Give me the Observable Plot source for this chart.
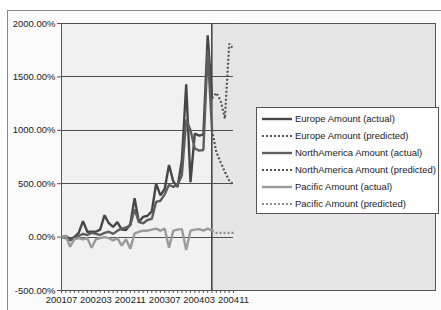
<!DOCTYPE html>
<html>
<head>
<meta charset="utf-8">
<script src="https://cdn.jsdelivr.net/npm/d3@7"></script>
<script src="https://cdn.jsdelivr.net/npm/@observablehq/plot@0.6"></script>
<style>
  html, body { margin: 0; padding: 0; background: #ffffff; }
  #wrap { position: relative; width: 441px; height: 310px; overflow: hidden; font-family: "Liberation Sans", Arial, sans-serif; }
  #frame { position: absolute; left: 7px; top: 10px; width: 450px; height: 320px; border: 1px solid #8a8a8a; background: #fbfbfb; }
  #chart { position: absolute; left: 0; top: 0; }
  #legend { position: absolute; left: 256px; top: 107px; width: 183px; height: 107px; background: #ffffff; border: 1px solid #555; box-sizing: border-box; padding-top: 2px; }
  .row { height: 17px; display: flex; align-items: center; font-size: 9.5px; color: #222; white-space: nowrap; }
  .row svg { margin-left: 5px; margin-right: 3px; }
</style>
</head>
<body>
<div id="wrap"><div id="frame"></div><div id="chart"></div><div id="legend"></div></div>
<script>
// ---- data ----
const months = ["200107","200108","200109","200110","200111","200112",
  "200201","200202","200203","200204","200205","200206","200207","200208","200209","200210","200211","200212",
  "200301","200302","200303","200304","200305","200306","200307","200308","200309","200310","200311","200312",
  "200401","200402","200403","200404","200405","200406","200407","200408","200409","200410","200411"];
const xTickLabels = ["200107","200203","200211","200307","200403","200411"];
const yTicks = [-500, 0, 500, 1000, 1500, 2000];

// actual values (%), months 200107..200406
const europeActual = [0, 10, -20, 0, 40, 150, 50, 50, 50, 70, 205, 130, 95, 140, 70, 65, 120, 365,
  140, 190, 200, 240, 500, 390, 450, 675, 520, 470, 720, 1430, 515, 970, 950, 960, 1890, 1300];
const northAmericaActual = [0, -10, -30, -10, 10, 30, 20, 40, 30, 20, 40, 50, 30, 60, 80, 90, 110, 260,
  140, 130, 160, 170, 330, 340, 400, 490, 470, 490, 580, 1100, 1000, 830, 810, 815, 1750, 1000];
const pacificActual = [0, 10, -90, -20, -10, -20, -10, -100, -20, -10, 0, -10, -30, -10, -80, -20, -110, 35,
  50, 60, 60, 70, 80, 60, 80, -100, 60, 70, 75, -120, 60, 70, 75, 60, 80, 60];
// predicted values (%), months 200406..200411
const europePredicted = [1300, 1350, 1280, 1110, 1810, 1760];
const northAmericaPredicted = [1000, 800, 700, 610, 530, 490];
const pacificPredicted = [60, 40, 40, 40, 40, 40];

const series = [
  {name: "Europe Amount (actual)", values: europeActual, start: 0, color: "#464646", dash: null},
  {name: "Europe Amount (predicted)", values: europePredicted, start: europeActual.length - 1, color: "#555555", dash: "2,2"},
  {name: "NorthAmerica Amount (actual)", values: northAmericaActual, start: 0, color: "#5e5e5e", dash: null},
  {name: "NorthAmerica Amount (predicted)", values: northAmericaPredicted, start: northAmericaActual.length - 1, color: "#555555", dash: "2,2"},
  {name: "Pacific Amount (actual)", values: pacificActual, start: 0, color: "#9a9a9a", dash: null},
  {name: "Pacific Amount (predicted)", values: pacificPredicted, start: pacificActual.length - 1, color: "#8e8e8e", dash: "2,2"}
];

const lastActual = europeActual.length - 1;
const lastIndex = months.length - 1;
const yMin = d3.min(yTicks), yMax = d3.max(yTicks);

const marks = [
  Plot.rect([{x1: 0, x2: lastActual, y1: yMin, y2: yMax}], {x1: "x1", x2: "x2", y1: "y1", y2: "y2", fill: "#f1f1f1", stroke: "#555", strokeWidth: 1, shapeRendering: "crispEdges"}),
  Plot.rect([{x1: lastActual, x2: lastIndex, y1: yMin, y2: yMax}], {x1: "x1", x2: "x2", y1: "y1", y2: "y2", fill: "#e6e6e6", stroke: "#555", strokeWidth: 1, insetRight: -202, shapeRendering: "crispEdges"}),
  Plot.ruleY(yTicks, {x1: 0, x2: lastIndex, stroke: "#505050", strokeWidth: 1, strokeOpacity: 1, shapeRendering: "crispEdges"}),
  Plot.ruleX([lastActual], {y1: yMin, y2: yMax, stroke: "#444", strokeWidth: 1.2}),
  Plot.axisY({ticks: yTicks, tickFormat: d => d.toFixed(2) + "%", tickSize: 4, tickPadding: 2, label: null, stroke: "#555"}),
  Plot.axisX({ticks: d3.range(0, months.length), tickSize: 3, tickFormat: () => "", label: null, stroke: "#555"}),
  Plot.axisX({ticks: xTickLabels.map(l => months.indexOf(l)), tickSize: 0, tickPadding: 6, tickFormat: i => months[i], label: null})
];
for (const s of series) {
  const data = s.values.map((v, k) => ({i: s.start + k, v}));
  marks.push(Plot.line(data, {x: "i", y: "v", stroke: s.color, strokeWidth: s.dash ? 2.2 : 2.4,
    strokeDasharray: s.dash || undefined, strokeLinejoin: "miter", strokeLinecap: "butt"}));
}

const chart = Plot.plot({
  width: 441, height: 310,
  marginLeft: 61, marginRight: 208, marginTop: 23, marginBottom: 20,
  x: {domain: [0, lastIndex]},
  y: {domain: [yMin, yMax]},
  style: {background: "transparent", fontFamily: "'Liberation Sans', Arial, sans-serif", fontSize: "9.5px", color: "#222", overflow: "visible"},
  marks
});
document.getElementById("chart").appendChild(chart);

const legend = document.getElementById("legend");
for (const s of series) {
  const row = document.createElement("div");
  row.className = "row";
  row.innerHTML = `<svg width="30" height="6"><line x1="0" x2="30" y1="3" y2="3" stroke="${s.color}" stroke-width="${s.dash ? 2.2 : 2.4}" ${s.dash ? `stroke-dasharray="${s.dash}"` : ""}/></svg><span>${s.name}</span>`;
  legend.appendChild(row);
}
</script>
</body>
</html>
